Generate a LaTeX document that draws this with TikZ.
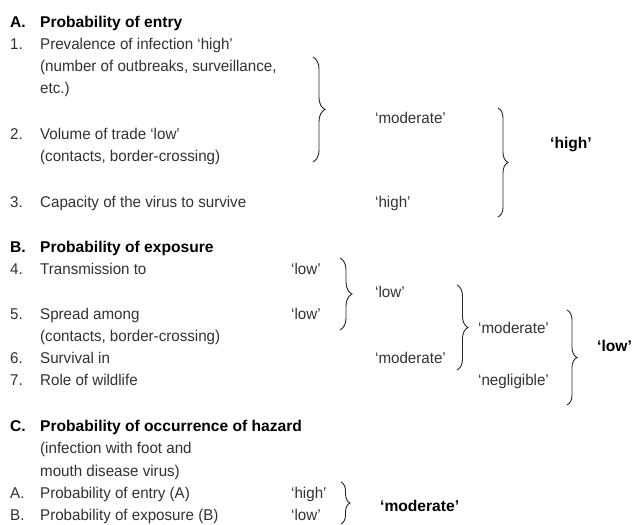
\documentclass[tikz,border=0pt]{standalone}
\usepackage{fontspec}
\setmainfont[FakeStretch=0.97, BoldFeatures={FakeStretch=1.0}]{Liberation Sans}
\usetikzlibrary{decorations.pathreplacing}
\definecolor{txt}{RGB}{50,50,50}
\tikzset{
  t/.style={anchor=base west, inner sep=0pt, text=txt, font=\fontsize{15.6}{20}\selectfont},
  b/.style={anchor=base west, inner sep=0pt, text=black, font=\fontsize{15.6}{20}\selectfont\bfseries},
  br/.style={draw=black!85, line width=0.9pt, decorate, decoration={brace, amplitude=#1}},
  br/.default=11pt
}
\begin{document}
\begin{tikzpicture}[x=1pt,y=-1pt]
\useasboundingbox[fill=white] (0,0) rectangle (636,524);
% Section A
\node[b] (hA) at (10,28) {A.};
\node[b] (hAt) at (40,28) {Probability of entry};
\node[t] (n1) at (10,50) {1.};
\node[t] (l1a) at (40,50) {Prevalence of infection ‘high’};
\node[t] (l1b) at (40,72) {(number of outbreaks, surveillance,};
\node[t] (l1c) at (40,94) {etc.)};
\node[t] (n2) at (10,139) {2.};
\node[t] (l2a) at (40,139) {Volume of trade ‘low’};
\node[t] (l2b) at (40,161) {(contacts, border-crossing)};
\node[t] (n3) at (10,207) {3.};
\node[t] (l3) at (40,207) {Capacity of the virus to survive};
\node[t] (vAm) at (375,123) {‘moderate’};
\node[t] (v3) at (375,207) {‘high’};
\node[b] (rA) at (550,148) {‘high’};
% Section B
\node[b] (hB) at (10,252) {B.};
\node[b] (hBt) at (40,252) {Probability of exposure};
\node[t] (n4) at (10,274) {4.};
\node[t] (l4) at (40,274) {Transmission to};
\node[t] (n5) at (10,319) {5.};
\node[t] (l5a) at (40,319) {Spread among};
\node[t] (l5b) at (40,341) {(contacts, border-crossing)};
\node[t] (n6) at (10,363) {6.};
\node[t] (l6) at (40,363) {Survival in};
\node[t] (n7) at (10,385) {7.};
\node[t] (l7) at (40,385) {Role of wildlife};
\node[t] (v4) at (291,274) {‘low’};
\node[t] (v5) at (291,319) {‘low’};
\node[t] (v45) at (375,297) {‘low’};
\node[t] (v6) at (375,363) {‘moderate’};
\node[t] (v456) at (478,333) {‘moderate’};
\node[t] (v7) at (478,385) {‘negligible’};
\node[b] (rB) at (597,351) {‘low’};
% Section C
\node[b] (hC) at (10,431) {C.};
\node[b] (hCt) at (40,431) {Probability of occurrence of hazard};
\node[t] (lCa) at (40,453) {(infection with foot and};
\node[t] (lCb) at (40,476) {mouth disease virus)};
\node[t] (nA) at (10,498) {A.};
\node[t] (lA) at (40,498) {Probability of entry (A)};
\node[t] (nB) at (10,520) {B.};
\node[t] (lB) at (40,520) {Probability of exposure (B)};
\node[t] (vCA) at (291,498) {‘high’};
\node[t] (vCB) at (291,520) {‘low’};
\node[b] (rC) at (380,511) {‘moderate’};
% brace end points
\coordinate (b1t) at (313,57);  \coordinate (b1b) at (313,162);
\coordinate (b2t) at (498,108); \coordinate (b2b) at (498,217);
\coordinate (b3t) at (340,258); \coordinate (b3b) at (340,330);
\coordinate (b4t) at (457,285); \coordinate (b4b) at (457,370);
\coordinate (b5t) at (567,310); \coordinate (b5b) at (567,405);
\coordinate (b6t) at (341,482); \coordinate (b6b) at (341,524);
\draw[br=12pt] (b1t) -- (b1b);
\draw[br=10pt] (b2t) -- (b2b);
\draw[br=12pt] (b3t) -- (b3b);
\draw[br=11pt] (b4t) -- (b4b);
\draw[br=10pt] (b5t) -- (b5b);
\draw[br=9pt] (b6t) -- (b6b);
\end{tikzpicture}
\end{document}
